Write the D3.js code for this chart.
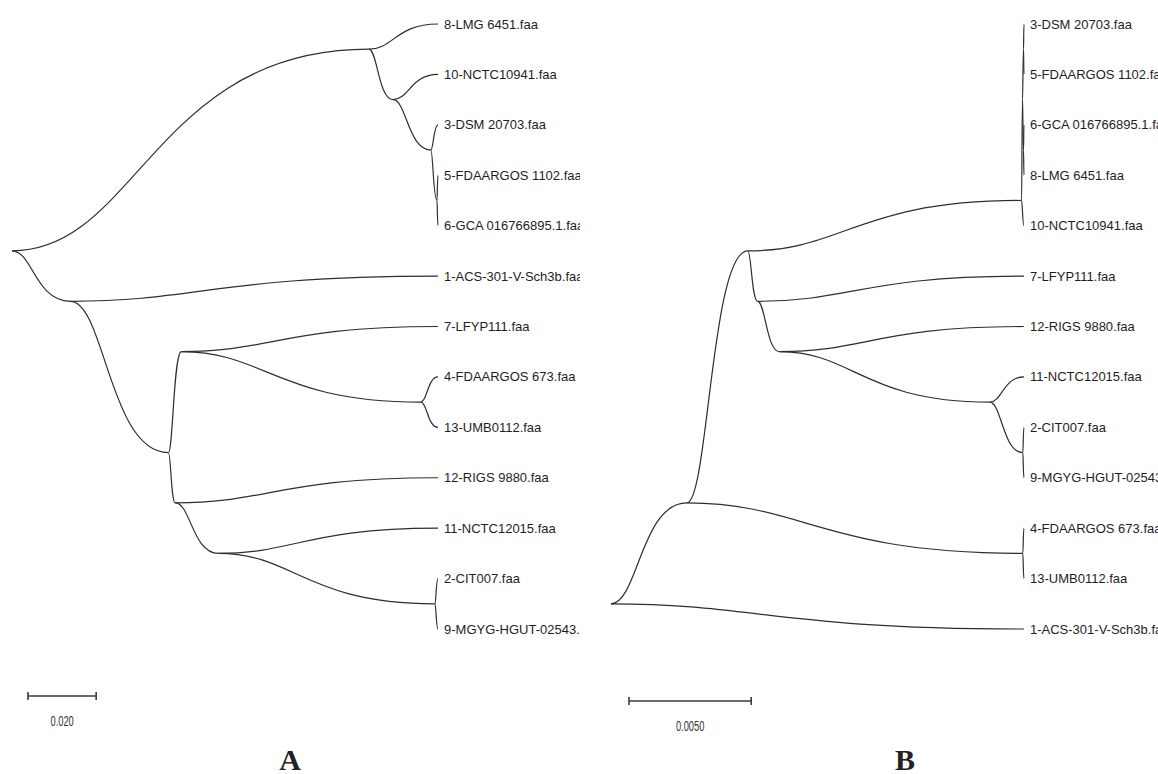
<!DOCTYPE html>
<html>
<head>
<meta charset="utf-8">
<script src="https://cdn.jsdelivr.net/npm/d3@7"></script>
<style>
  body { margin: 0; background: #fff; }
  svg { display: block; }
  .link { fill: none; stroke: #2e2e2e; stroke-width: 1.2; }
  .leaf { font-family: "Liberation Sans", Arial, sans-serif; font-size: 13px; fill: #1e1e1e; }
  .bar { stroke: #3a3a3a; stroke-width: 1.6; }
  .barlabel { font-family: "Liberation Sans", Arial, sans-serif; font-size: 15px; fill: #333; }
  .panel { font-family: "Liberation Serif", "Times New Roman", serif; font-weight: bold; font-size: 30px; fill: #222; }
</style>
</head>
<body>
<div id="chart"></div>
<script>
let width = 1158
let height = 774

// tree A : [parent, child, branch length] - children listed top to bottom
let edgesA = [
  ['', 'a0', 0],
  ['a0', 'a1', 0.1047],
  ['a1', '8-LMG 6451.faa', 0.0203],
  ['a1', 'a2', 0.0071],
  ['a2', '10-NCTC10941.faa', 0.0132],
  ['a2', 'a3', 0.0111],
  ['a3', '3-DSM 20703.faa', 0.0021],
  ['a3', 'a4', 0.0018],
  ['a4', '5-FDAARGOS 1102.faa', 0.0003],
  ['a4', '6-GCA 016766895.1.faa', 0.0003],
  ['a0', 'a5', 0.0171],
  ['a5', '1-ACS-301-V-Sch3b.faa', 0.1079],
  ['a5', 'a6', 0.0288],
  ['a6', 'a7', 0.0038],
  ['a7', '7-LFYP111.faa', 0.0753],
  ['a7', 'a8', 0.0703],
  ['a8', '4-FDAARGOS 673.faa', 0.0050],
  ['a8', '13-UMB0112.faa', 0.0050],
  ['a6', 'a9', 0.0020],
  ['a9', '12-RIGS 9880.faa', 0.0771],
  ['a9', 'a10', 0.0127],
  ['a10', '11-NCTC12015.faa', 0.0644],
  ['a10', 'a11', 0.0635],
  ['a11', '2-CIT007.faa', 0.0009],
  ['a11', '9-MGYG-HGUT-02543.faa', 0.0009]
]

// tree B
let edgesB = [
  ['', 'b0', 0],
  ['b0', 'b1', 0.0031],
  ['b1', 'b2', 0.0025],
  ['b2', 'b3', 0.0112],
  ['b3', 'b4', 0.00004],
  ['b4', 'b5', 0.00004],
  ['b5', '3-DSM 20703.faa', 0.00002],
  ['b5', '5-FDAARGOS 1102.faa', 0.00002],
  ['b4', 'b6', 0.00004],
  ['b6', '6-GCA 016766895.1.faa', 0.00002],
  ['b6', '8-LMG 6451.faa', 0.00002],
  ['b3', '10-NCTC10941.faa', 0.0001],
  ['b2', 'b7', 0.0004],
  ['b7', '7-LFYP111.faa', 0.0109],
  ['b7', 'b8', 0.0009],
  ['b8', '12-RIGS 9880.faa', 0.0100],
  ['b8', 'b9', 0.0086],
  ['b9', '11-NCTC12015.faa', 0.0014],
  ['b9', 'b10', 0.00135],
  ['b10', '2-CIT007.faa', 0.00005],
  ['b10', '9-MGYG-HGUT-02543.faa', 0.00005],
  ['b1', 'b11', 0.01375],
  ['b11', '4-FDAARGOS 673.faa', 0.00005],
  ['b11', '13-UMB0112.faa', 0.00005],
  ['b0', '1-ACS-301-V-Sch3b.faa', 0.0169]
]

let scaleBarA = 0.020
let scaleBarB = 0.0050
let scaleLabelA = '0.020'
let scaleLabelB = '0.0050'

let svg = d3
  .select('#chart')
  .append('svg')
  .attr('width', width)
  .attr('height', height)

svg.append('defs')
  .append('clipPath')
  .attr('id', 'clip-a')
  .append('rect')
  .attr('x', 0)
  .attr('y', 0)
  .attr('width', 580)
  .attr('height', 660)

// MEGA style curved branch
function curve(x0, y0, x1, y1) {
  let dx = x1 - x0
  let p = d3.path()
  p.moveTo(x0, y0)
  p.bezierCurveTo(x0 + 0.35 * dx, y0, x0 + 0.4 * dx, y1, x1, y1)
  return p.toString()
}

function drawTree(edges, opts) {
  let root = d3.stratify()
    .id(d => d[1])
    .parentId(d => d[0])(edges)

  // distance from root
  root.each(d => {
    d.len = d.parent ? d.parent.len + d.data[2] : 0
  })
  let maxLen = d3.max(root.leaves(), d => d.len)

  let x = d3.scaleLinear().domain([0, maxLen]).range(opts.xRange)
  let y = d3.scalePoint()
    .domain(root.leaves().map(d => d.id))
    .range([24, 629])

  root.leaves().forEach(d => { d.y = y(d.id) })
  // internal node sits between the split of its two children
  root.eachAfter(d => {
    if (d.children) {
      let a = d.children[0].leaves()
      let b = d.children[1].leaves()
      d.y = (a[a.length - 1].y + b[0].y) / 2
    }
    d.x = x(d.len)
  })

  let g = svg.append('g')
  if (opts.clip) g.attr('clip-path', 'url(#' + opts.clip + ')')

  g.selectAll('.link')
    .data(root.links())
    .enter()
    .append('path')
    .attr('class', 'link')
    .attr('d', l => curve(l.source.x, l.source.y, l.target.x, l.target.y))

  g.selectAll('.leaf')
    .data(root.leaves())
    .enter()
    .append('text')
    .attr('class', 'leaf')
    .attr('x', d => d.x + 6)
    .attr('y', d => d.y)
    .attr('dy', '0.35em')
    .text(d => d.id)

  // scale bar
  let x0 = opts.barX
  let x1 = x0 + (x(opts.bar) - x(0))
  let by = opts.barY
  let bar = svg.append('g')
  bar.append('line').attr('class', 'bar')
    .attr('x1', x0).attr('x2', x1).attr('y1', by).attr('y2', by)
  bar.selectAll('.tick')
    .data([x0, x1])
    .enter()
    .append('line')
    .attr('class', 'bar')
    .attr('x1', d => d).attr('x2', d => d)
    .attr('y1', by - 4).attr('y2', by + 4)
  bar.append('text')
    .attr('class', 'barlabel')
    .attr('text-anchor', 'middle')
    .attr('transform', 'translate(' + ((x0 + x1) / 2) + ',' + (by + 30) + ') scale(0.62,1)')
    .text(opts.barLabel)

  svg.append('text')
    .attr('class', 'panel')
    .attr('x', opts.letterX)
    .attr('y', 770)
    .attr('text-anchor', 'middle')
    .text(opts.letter)
}

drawTree(edgesA, {
  xRange: [12, 438],
  clip: 'clip-a',
  bar: scaleBarA,
  barLabel: scaleLabelA,
  barX: 28,
  barY: 696,
  letter: 'A',
  letterX: 290
})

drawTree(edgesB, {
  xRange: [611, 1024],
  bar: scaleBarB,
  barLabel: scaleLabelB,
  barX: 629,
  barY: 701,
  letter: 'B',
  letterX: 905
})
</script>
</body>
</html>
